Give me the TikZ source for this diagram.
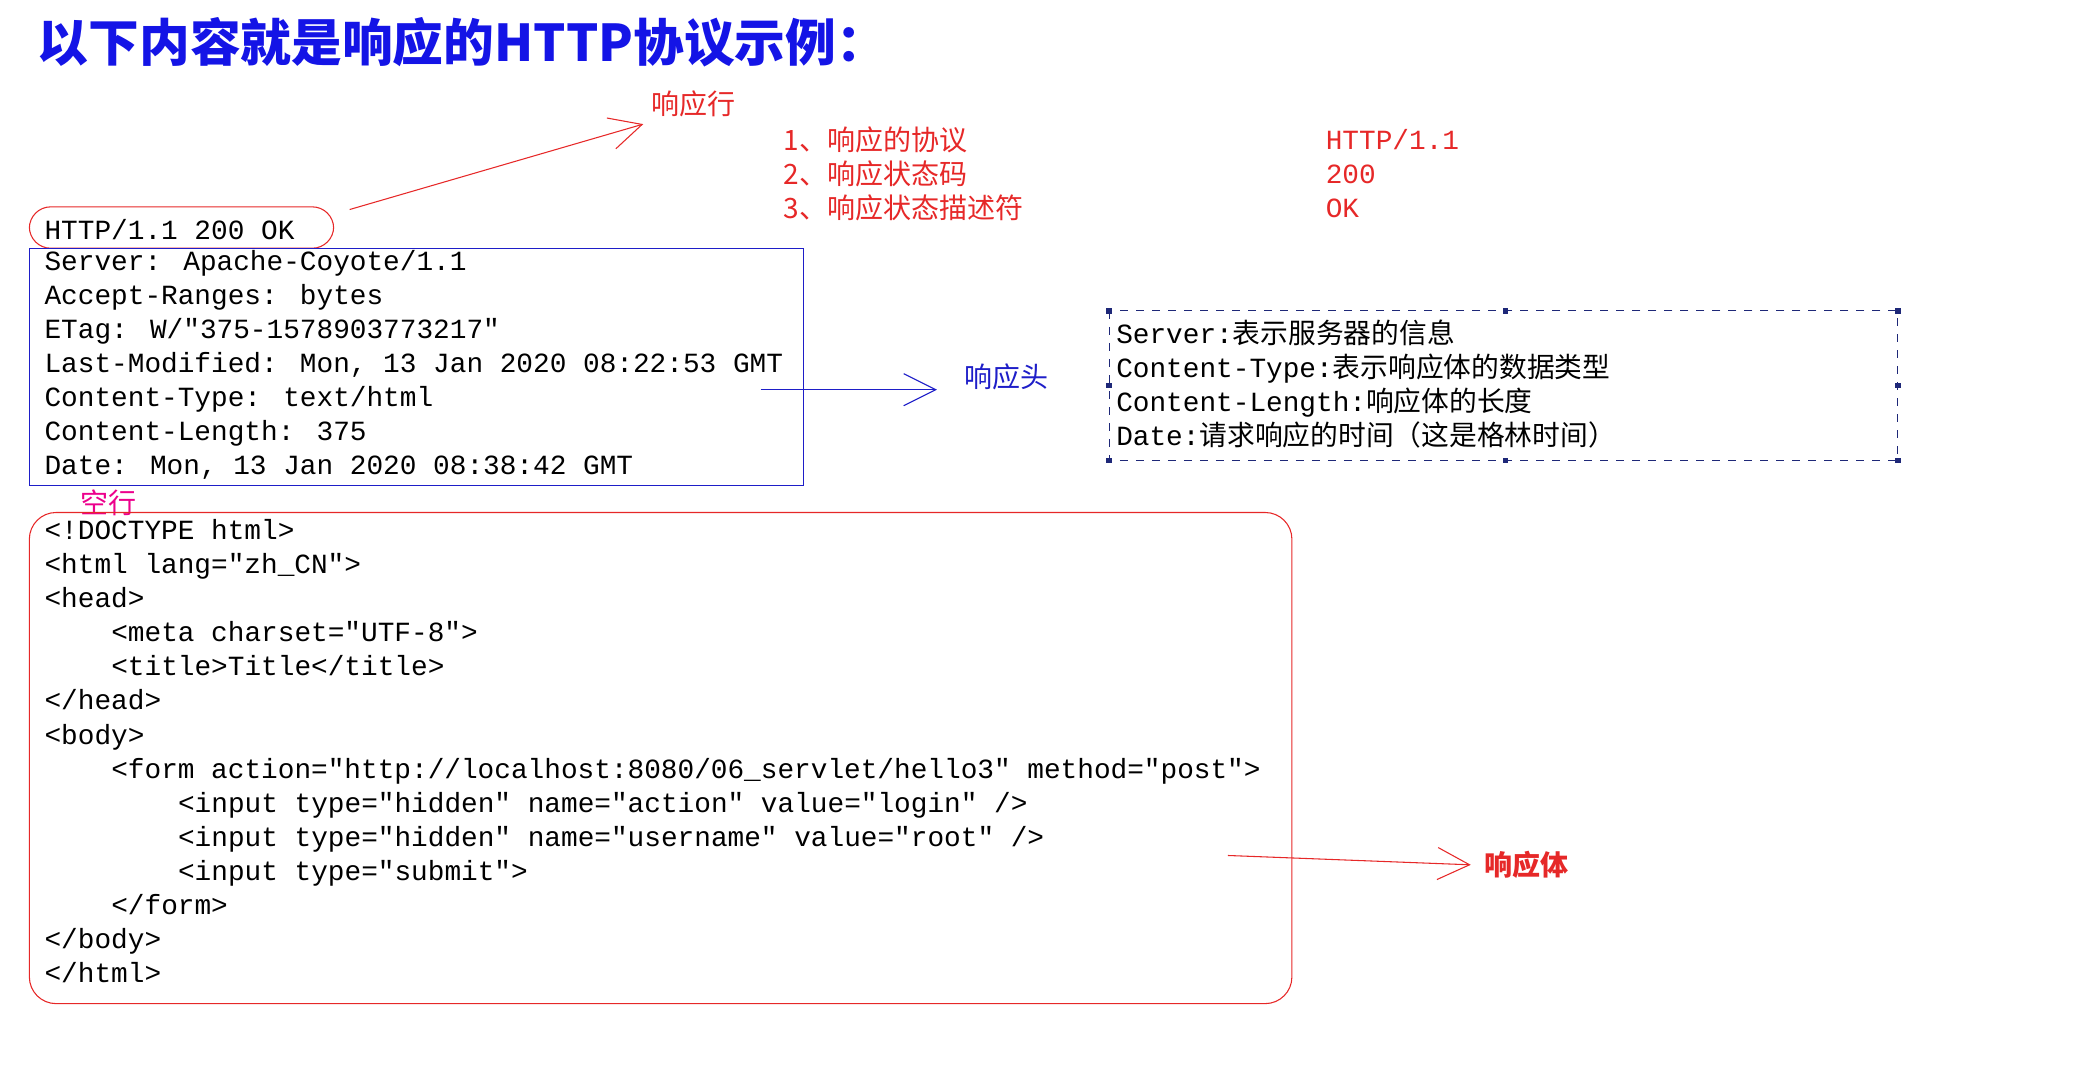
\documentclass[tikz,border=0pt]{standalone}
\usepackage{fontspec}
\usetikzlibrary{arrows.meta}
\newfontfamily\cjk{Noto Sans CJK SC}
\newfontfamily\mono{Liberation Mono}
\newcommand\ind{\hspace*{25pt}}
\definecolor{titleblue}{RGB}{20,20,230}
\definecolor{hdrblue}{RGB}{30,30,200}
\definecolor{redline}{RGB}{230,40,40}
\definecolor{navy}{RGB}{30,40,120}

\begin{document}
\begin{tikzpicture}[x=0.5pt, y=-0.5pt,
    code/.style = {anchor = north west, inner sep = 0pt, align = left,
      font = \mono\fontsize{10.4}{12.75}\selectfont},
    note/.style = {anchor = west, inner sep = 0pt, text = redline,
      font = \cjk\fontsize{10.5}{12.5}\selectfont},
    pointer/.style = {-{Straight Barb[length=12pt, width=12pt]}, thin}]
  \useasboundingbox (0,0) rectangle (1560,806);
  \node[anchor = west, inner sep = 0pt, text = titleblue,
        font = \cjk\bfseries\fontsize{19}{20}\selectfont] (title) at (28,32)
        {以下内容就是响应的HTTP协议示例：};
  % response line
  \node[code, anchor = west] (line) at (33,172) {HTTP/1.1 200 OK};
  \draw[redline, rounded corners = 8pt] (22,155) rectangle (250,186);
  \node[note] (linelbl) at (488,78) {响应行};
  \coordinate (linefrom) at (262,157);
  \draw[pointer, redline] (linefrom) -- (482,93);
  \node[note, align = left, font = \cjk\fontsize{10.5}{12.75}\selectfont] (parts) at (587,130)
    {1、响应的协议\\2、响应状态码\\3、响应状态描述符};
  \node[note, align = left, font = \mono\fontsize{10.4}{12.75}\selectfont] (vals) at (993,130)
    {HTTP/1.1\\200\\OK};
  % headers
  \node[code] (hdr) at (33,187) {Server: Apache-Coyote/1.1\\
    Accept-Ranges: bytes\\
    ETag: W/"375-1578903773217"\\
    Last-Modified: Mon, 13 Jan 2020 08:22:53 GMT\\
    Content-Type: text/html\\
    Content-Length: 375\\
    Date: Mon, 13 Jan 2020 08:38:42 GMT};
  \draw[hdrblue] (22,186) rectangle (602,364);
  \coordinate (hdrfrom) at (570,292);
  \draw[pointer, hdrblue] (hdrfrom) -- (702,292);
  \node[note, text = hdrblue] (hdrlbl) at (722,282) {响应头};
  \node[code] (meaning) at (836,239) {Server:{\cjk 表示服务器的信息}\\
    Content-Type:{\cjk 表示响应体的数据类型}\\
    Content-Length:{\cjk 响应体的长度}\\
    Date:{\cjk 请求响应的时间（这是格林时间）}};
  \draw[navy, dashed] (831,233) rectangle (1422,345);
  \foreach \px/\py in {831/233, 1128/233, 1422/233, 831/289, 1422/289, 831/345, 1128/345, 1422/345}
    \fill[navy] (\px-2,\py-2) rectangle (\px+2,\py+2);
  % empty line
  \node[note, text = magenta] (blank) at (60,377) {空行};
  % body
  \node[code] (body) at (33,389) {<!DOCTYPE html>\\
    <html lang="zh\_CN">\\
    <head>\\
    \ind<meta charset="UTF-8">\\
    \ind<title>Title</title>\\
    </head>\\
    <body>\\
    \ind<form action="http://localhost:8080/06\_servlet/hello3" method="post">\\
    \ind\ind<input type="hidden" name="action" value="login" />\\
    \ind\ind<input type="hidden" name="username" value="root" />\\
    \ind\ind<input type="submit">\\
    \ind</form>\\
    </body>\\
    </html>};
  \draw[redline, rounded corners = 10pt] (22,384) rectangle (968,752);
  \coordinate (bodyfrom) at (920,641);
  \draw[pointer, redline] (bodyfrom) -- (1102,648);
  \node[note, font = \cjk\bfseries\fontsize{10.5}{12.5}\selectfont] (bodylbl) at (1112,648) {响应体};
\end{tikzpicture}
\end{document}
